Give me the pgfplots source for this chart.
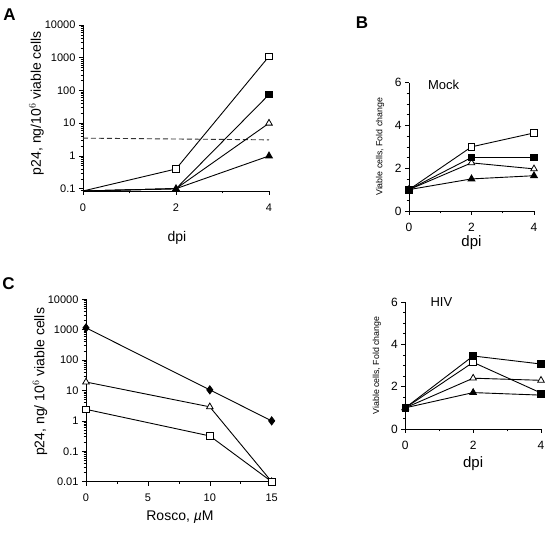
\documentclass[border=0pt]{standalone}
\usepackage{fontspec}
\setmainfont{Liberation Sans}
\usepackage{pgfplots}
\pgfplotsset{compat=1.18}

\pgfplotsset{
  myaxis/.style={
    scale only axis, axis lines=left,
    axis line style={-, line width=0.8pt},
    tick align=outside, major tick length=4pt, minor tick length=2.3pt,
    every tick/.style={black, line width=0.6pt},
    /pgf/number format/assume math mode=true,
    /pgf/number format/1000 sep={},
    tick label style={font=\fontsize{11}{12}\selectfont},
    xticklabel style={yshift=-5pt},
    clip=false,
    every axis x label/.style={anchor=center, font=\fontsize{14}{16}\selectfont},
    every axis y label/.style={anchor=center, rotate=90, font=\fontsize{14}{16}\selectfont},
  },
  osq/.style={black, line width=0.9pt, mark=square*, mark size=3.3pt, mark options={solid, fill=white, line width=0.8pt}},
  fsq/.style={black, line width=0.9pt, mark=square*, mark size=3.3pt, mark options={solid, fill=black}},
  otri/.style={black, line width=0.9pt, mark=triangle*, mark size=3.8pt, mark options={solid, fill=white, line width=0.8pt}},
  ftri/.style={black, line width=0.9pt, mark=triangle*, mark size=3.8pt, mark options={solid, fill=black}},
  fdia/.style={black, line width=0.9pt, mark=diamond*, mark size=4pt, mark options={solid, fill=black}},
}

\begin{document}
\begin{tikzpicture}
\useasboundingbox (0pt,0pt) rectangle (549pt,537pt);

% Panel letters
\node[font=\fontsize{17}{17}\bfseries\selectfont] at (9.5pt,522pt) {A};
\node[font=\fontsize{17}{17}\bfseries\selectfont] at (362pt,514.5pt) {B};
\node[font=\fontsize{17}{17}\bfseries\selectfont] at (8.5pt,253.5pt) {C};

% ---------------- Panel A ----------------
\begin{axis}[myaxis,
  at={(83pt,346pt)}, anchor=south west, width=186pt, height=166pt,
  ymode=log, xmin=0, xmax=4, ymin=0.085, ymax=10000,
  xtick={0,2,4}, minor xtick={1,3},
  ytick={0.1,1,10,100,1000,10000},
  yticklabels={0.1,1,10,100,1000,10000},
  minor ytick={0.09,0.2,0.3,0.4,0.5,0.6,0.7,0.8,0.9,2,3,4,5,6,7,8,9,20,30,40,50,60,70,80,90,200,300,400,500,600,700,800,900,2000,3000,4000,5000,6000,7000,8000,9000},
  xlabel={dpi},
  ylabel={p24, ng/10$^{6}$ viable cells},
  x label style={at={(axis description cs:0.505,-0.283)}},
  y label style={at={(axis description cs:-0.25,0.53)}},
]
\addplot[black!80, line width=0.9pt, dash pattern=on 5pt off 3pt] coordinates {(0,3.5) (4,3.1)};
\addplot[osq, mark indices={2,3}] coordinates {(0,0.085) (2,0.4) (4,1100)};
\addplot[fsq, mark indices={3}] coordinates {(0,0.085) (2,0.1) (4,75)};
\addplot[otri, mark indices={3}] coordinates {(0,0.085) (2,0.1) (4,10)};
\addplot[ftri, mark indices={2,3}] coordinates {(0,0.085) (2,0.1) (4,1)};
\end{axis}

% ---------------- Panel B (Mock) ----------------
\begin{axis}[myaxis,
  at={(409pt,326pt)}, anchor=south west, width=125pt, height=128.3pt,
  xmin=0, xmax=4, ymin=0, ymax=6,
  xtick={0,2,4}, minor xtick={1,3},
  ytick={0,2,4,6}, minor ytick={0.5,1,1.5,2.5,3,3.5,4.5,5,5.5},
  tick label style={font=\fontsize{12}{13}\selectfont},
  xlabel={dpi},
  ylabel={Viable cells, Fold change},
  x label style={at={(axis description cs:0.5,-0.245)}, font=\fontsize{15}{16}\selectfont},
  y label style={at={(axis description cs:-0.232,0.5)}, font=\fontsize{8.8}{9}\selectfont},
]
\node[anchor=west, font=\fontsize{13}{14}\selectfont] at (axis cs:0.5,5.88) {Mock};
\addplot[osq] coordinates {(0,1) (2,3.0) (4,3.65)};
\addplot[otri] coordinates {(0,1) (2,2.25) (4,1.97)};
\addplot[ftri] coordinates {(0,1) (2,1.5) (4,1.65)};
\addplot[fsq] coordinates {(0,1) (2,2.5) (4,2.5)};
\end{axis}

% ---------------- Panel HIV ----------------
\begin{axis}[myaxis,
  at={(405.3pt,108pt)}, anchor=south west, width=135.7pt, height=127pt,
  xmin=0, xmax=4, ymin=0, ymax=6,
  xtick={0,2,4}, minor xtick={1,3},
  ytick={0,2,4,6}, minor ytick={0.5,1,1.5,2.5,3,3.5,4.5,5,5.5},
  tick label style={font=\fontsize{12}{13}\selectfont},
  xlabel={dpi},
  ylabel={Viable cells, Fold change},
  x label style={at={(axis description cs:0.5,-0.27)}, font=\fontsize{15}{16}\selectfont},
  y label style={at={(axis description cs:-0.21,0.5)}, font=\fontsize{8.8}{9}\selectfont},
]
\node[anchor=west, font=\fontsize{13}{14}\selectfont] at (axis cs:0.64,6) {HIV};
\addplot[otri] coordinates {(0,1) (2,2.4) (4,2.3)};
\addplot[ftri] coordinates {(0,1) (2,1.72) (4,1.6)};
\addplot[osq, mark indices={1,2}] coordinates {(0,1) (2,3.15) (4,1.7)};
\addplot[fsq, only marks] coordinates {(4,1.65)};
\addplot[fsq] coordinates {(0,1) (2,3.45) (4,3.07)};
\end{axis}

% ---------------- Panel C ----------------
\begin{axis}[myaxis,
  at={(86pt,55.3pt)}, anchor=south west, width=185.7pt, height=182.4pt,
  ymode=log, xmin=0, xmax=15, ymin=0.01, ymax=10000,
  xtick={0,5,10,15}, minor xtick={2.5,7.5,12.5},
  ytick={0.01,0.1,1,10,100,1000,10000},
  yticklabels={0.01,0.1,1,10,100,1000,10000},
  minor ytick={0.02,0.03,0.04,0.05,0.06,0.07,0.08,0.09,0.2,0.3,0.4,0.5,0.6,0.7,0.8,0.9,2,3,4,5,6,7,8,9,20,30,40,50,60,70,80,90,200,300,400,500,600,700,800,900,2000,3000,4000,5000,6000,7000,8000,9000},
  xlabel={Rosco, {\itshape µ}M},
  ylabel={p24, ng/ 10$^{6}$ viable cells},
  x label style={at={(axis description cs:0.506,-0.192)}},
  y label style={at={(axis description cs:-0.248,0.547)}},
]
\addplot[fdia] coordinates {(0,1150) (10,10.5) (15,1)};
\addplot[otri] coordinates {(0,19) (10,2.9) (15,0.01)};
\addplot[osq] coordinates {(0,2.4) (10,0.32) (15,0.01)};
\end{axis}
\end{tikzpicture}
\end{document}
